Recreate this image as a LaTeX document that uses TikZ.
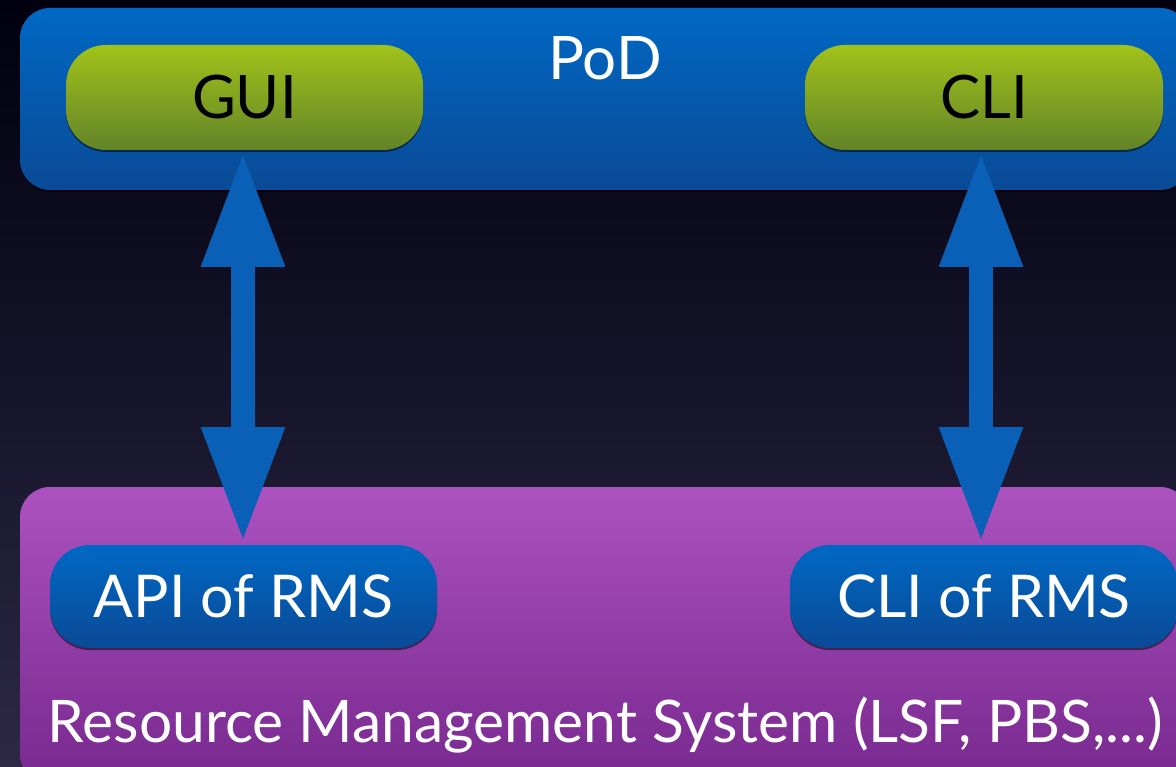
\documentclass[tikz,border=0pt]{standalone}
\usepackage{fontspec}
\setmainfont{Lato}
\usetikzlibrary{arrows.meta,shadows}
\definecolor{bgtop}{HTML}{00000E}
\definecolor{bgbot}{HTML}{2C2846}
\definecolor{bluetop}{HTML}{0068C4}
\definecolor{bluebot}{HTML}{0A4A96}
\definecolor{greentop}{HTML}{A2C21A}
\definecolor{greenbot}{HTML}{628428}
\definecolor{purptop}{HTML}{AC52C0}
\definecolor{purpbot}{HTML}{77288E}
\definecolor{arrowblue}{HTML}{0A5FB6}
\newcommand\bigtxt{\fontsize{60}{66}\selectfont}
\newcommand\midtxt{\fontsize{59}{66}\selectfont}
\newcommand\lowtxt{\fontsize{58.7}{66}\selectfont}
\begin{document}
\begin{tikzpicture}[x=1pt,y=1pt,
  panel/.style={rounded corners=30pt, inner sep=0pt, outer sep=0pt,
    drop shadow={fill=black,opacity=0.5,shadow xshift=0pt,shadow yshift=-2pt}},
  bluepanel/.style={panel, top color=bluetop, bottom color=bluebot},
  purppanel/.style={panel, top color=purptop, bottom color=purpbot},
  pill/.style={rounded corners=40pt, inner sep=0pt, outer sep=0pt,
    drop shadow={fill=black,opacity=0.5,shadow xshift=0pt,shadow yshift=-2pt}},
  greenpill/.style={pill, font=\bigtxt, top color=greentop, bottom color=greenbot, text=black},
  bluepill/.style={pill, font=\midtxt, top color=bluetop, bottom color=bluebot, text=white},
  label/.style={font=\bigtxt, text=white, inner sep=0pt},
  dblarrow/.style={draw=arrowblue, line width=24pt,
    {Triangle[width=77pt,length=116pt]}-{Triangle[width=77pt,length=116pt]}}
]
\path[use as bounding box, top color=bgtop, bottom color=bgbot] (0,0) rectangle (1176,-767);
% top panel
\node[bluepanel, minimum width=1170pt, minimum height=182pt] (pod) at (605,-99) {};
\node[label] (podlabel) at (605,-58) {PoD};
\node[greenpill, minimum width=357pt, minimum height=105pt] (gui) at (244.5,-97.5) {GUI};
\node[greenpill, minimum width=358pt, minimum height=105pt] (cli) at (984,-97.5) {CLI};
% bottom panel
\node[purppanel, minimum width=1170pt, minimum height=298pt] (rms) at (605,-636) {};
\node[bluepill, minimum width=387pt, minimum height=103pt] (api) at (243.5,-596.5) {API of RMS};
\node[bluepill, minimum width=388pt, minimum height=103pt] (clirms) at (984,-596.5) {CLI of RMS};
\node[label, font=\lowtxt, anchor=base] (rmslabel) at (605,-742) {Resource Management System (LSF, PBS,...)};
% arrows
\draw[dblarrow] ([xshift=-1.5pt,yshift=-1pt]gui.south) -- ([xshift=-0.5pt,yshift=2pt]api.north);
\draw[dblarrow] ([xshift=-3pt,yshift=-1pt]cli.south) -- ([xshift=-3pt,yshift=2pt]clirms.north);
\end{tikzpicture}
\end{document}
